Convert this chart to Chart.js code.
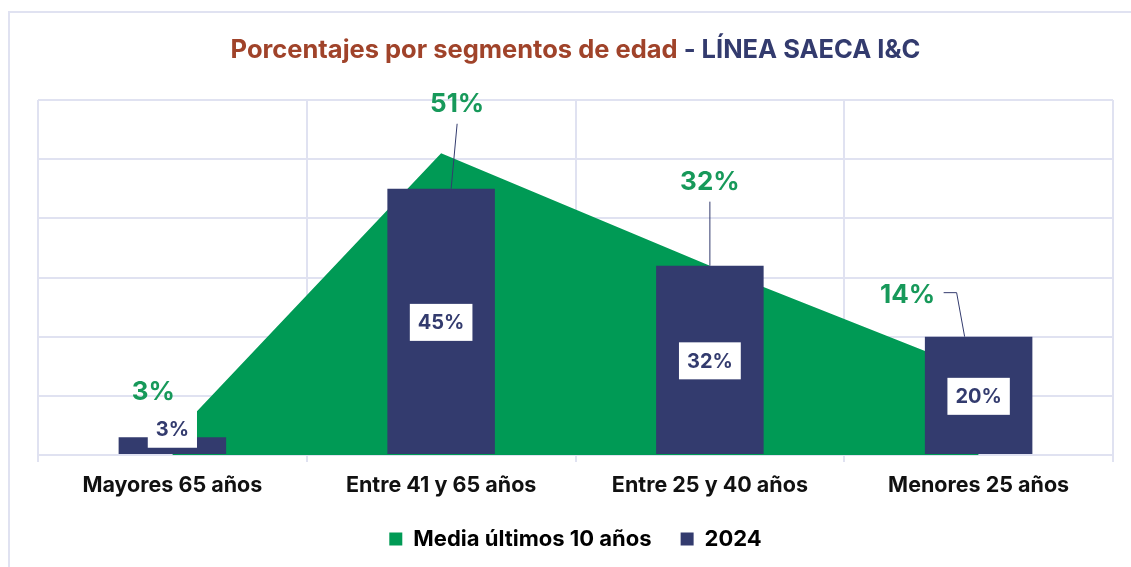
<!DOCTYPE html>
<html>
<head>
<meta charset="utf-8">
<script src="https://cdn.jsdelivr.net/npm/chart.js@4/dist/chart.umd.min.js"></script>
<style>
  html, body { margin: 0; padding: 0; background: #fff; overflow: hidden; }
  #frame { position: absolute; left: 8px; top: 11px; width: 1300px; height: 700px; border: 2px solid #e0e2f1; }
  #wrap { position: absolute; left: 0; top: 0; width: 1131px; height: 567px; }
</style>
</head>
<body>
<div id="frame"></div>
<div id="wrap"><canvas id="chart" width="1131" height="567"></canvas></div>
<script>
const GREEN = '#009a55';
const GREEN_TEXT = '#17995a';
const NAVY = '#333b6e';
const BROWN = '#a0432a';
const GRID = '#e0e2f1';

const categories = ['Mayores 65 años', 'Entre 41 y 65 años', 'Entre 25 y 40 años', 'Menores 25 años'];
const media10 = [3, 51, 32, 14];
const y2024 = [3, 45, 32, 20];
const seriesNames = ['Media últimos 10 años', '2024'];

// where the green labels sit, relative to the top of the 2024 bar
const greenLabelOffsets = [
  { dx: -19, dy: -45, leader: null },
  { dx: 16, dy: -85, leader: [[16, -65], [10, 0]] },
  { dx: 0, dy: -83, leader: [[0, -64], [0, 0]] },
  { dx: -71, dy: -41, leader: [[-35, -44], [-22, -44], [-14, 0]] },
];

const FONT = 'Inter, "Liberation Sans", Arial, sans-serif';

const titlePlugin = {
  id: 'twoToneTitle',
  afterDraw(chart) {
    const { ctx, chartArea } = chart;
    const parts = [
      { text: 'Porcentajes por segmentos de edad', color: BROWN },
      { text: ' - LÍNEA SAECA I&C', color: NAVY },
    ];
    ctx.save();
    ctx.font = `bold 25.5px ${FONT}`;
    ctx.textBaseline = 'middle';
    ctx.textAlign = 'left';
    const total = parts.reduce((w, p) => w + ctx.measureText(p.text).width, 0);
    let x = (chartArea.left + chartArea.right) / 2 - total / 2;
    parts.forEach((p) => {
      ctx.fillStyle = p.color;
      ctx.fillText(p.text, x, 50);
      x += ctx.measureText(p.text).width;
    });
    ctx.restore();
  },
};

const labelPlugin = {
  id: 'valueLabels',
  afterDatasetsDraw(chart) {
    const { ctx } = chart;
    const bars = chart.getDatasetMeta(1).data;
    ctx.save();
    // white boxes inside the 2024 bars
    ctx.font = `bold 20px ${FONT}`;
    ctx.textAlign = 'center';
    ctx.textBaseline = 'middle';
    bars.forEach((bar, i) => {
      const text = y2024[i] + '%';
      const w = ctx.measureText(text).width + 16;
      const h = 37;
      const tall = bar.base - bar.y > h + 10;
      const cx = bar.x;
      const cy = tall ? (bar.y + bar.base) / 2 + 1 : bar.y - 8;
      ctx.fillStyle = '#fff';
      ctx.fillRect(cx - w / 2, cy - h / 2, w, h);
      ctx.fillStyle = NAVY;
      ctx.fillText(text, cx, cy + 1);
    });
    // green labels for the 10 year mean, with leader lines
    ctx.font = `bold 26px ${FONT}`;
    bars.forEach((bar, i) => {
      const o = greenLabelOffsets[i];
      ctx.fillStyle = GREEN_TEXT;
      ctx.fillText(media10[i] + '%', bar.x + o.dx, bar.y + o.dy);
      if (o.leader) {
        ctx.strokeStyle = NAVY;
        ctx.lineWidth = 1;
        ctx.beginPath();
        o.leader.forEach(([dx, dy], k) => {
          const px = bar.x + dx, py = bar.y + dy;
          if (k === 0) ctx.moveTo(px, py); else ctx.lineTo(px, py);
        });
        ctx.stroke();
      }
    });
    ctx.restore();
  },
};

new Chart(document.getElementById('chart'), {
  data: {
    labels: categories,
    datasets: [
      {
        type: 'line',
        label: seriesNames[0],
        data: media10,
        backgroundColor: GREEN,
        borderColor: GREEN,
        borderWidth: 0,
        pointRadius: 0,
        fill: 'origin',
        tension: 0,
        order: 2,
      },
      {
        type: 'bar',
        label: seriesNames[1],
        data: y2024,
        backgroundColor: NAVY,
        categoryPercentage: 1,
        barPercentage: 0.4,
        order: 1,
      },
    ],
  },
  options: {
    responsive: false,
    animation: false,
    layout: { padding: { top: 100, left: 38, right: 18, bottom: 7 } },
    plugins: {
      title: { display: false },
      tooltip: { enabled: false },
      legend: {
        position: 'bottom',
        labels: {
          color: '#111',
          font: { family: FONT, size: 22, weight: 'bold' },
          boxWidth: 13,
          boxHeight: 13,
          padding: 29,
          generateLabels: (chart) =>
            chart.data.datasets.map((d, i) => ({
              text: d.label,
              fillStyle: d.backgroundColor,
              strokeStyle: d.backgroundColor,
              lineWidth: 0,
              datasetIndex: i,
            })),
        },
      },
    },
    scales: {
      x: {
        offset: true,
        grid: { offset: true, color: GRID, lineWidth: 2, drawTicks: true, tickLength: 7 },
        border: { display: false },
        ticks: {
          color: '#111',
          padding: 11,
          font: { family: FONT, size: 21.5, weight: 'bold' },
        },
        afterFit: (scale) => { scale.height = 44; },
      },
      y: {
        min: 0,
        max: 60,
        ticks: { display: false, stepSize: 10 },
        grid: { color: GRID, lineWidth: 2, drawTicks: false },
        border: { display: false },
      },
    },
  },
  plugins: [titlePlugin, labelPlugin],
});
</script>
</body>
</html>
